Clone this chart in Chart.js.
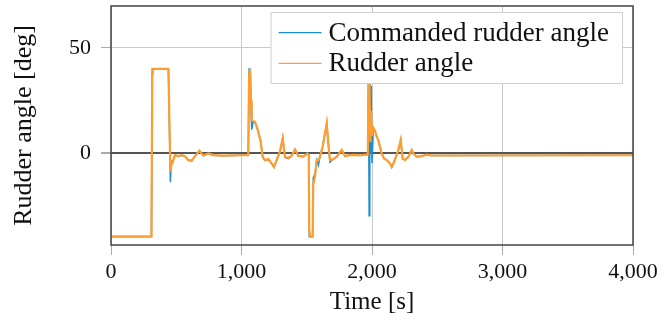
<!DOCTYPE html>
<html>
<head>
<meta charset="utf-8">
<script src="https://cdn.jsdelivr.net/npm/chart.js@4.4.1/dist/chart.umd.min.js"></script>
<style>
  html, body { margin: 0; padding: 0; background: #fff; }
  #wrap { width: 664px; height: 321px; }
</style>
</head>
<body>
<div id="wrap"><canvas id="chart" width="664" height="321"></canvas></div>
<script>
// time stamps [s] shared by both series
const time = [
  0, 310, 316, 324, 440, 455, 462, 473, 490, 516, 541, 567, 593, 618, 644, 677,
  707, 746, 784, 861, 1000, 1052, 1058, 1066, 1073, 1078, 1090, 1103, 1117, 1129,
  1147, 1162, 1180, 1206, 1231, 1249, 1270, 1295, 1316, 1333, 1359, 1384, 1410,
  1435, 1474, 1505, 1515, 1519, 1525, 1545, 1550, 1563, 1576, 1589, 1601, 1622,
  1640, 1653, 1665, 1678, 1704, 1730, 1768, 1793, 1831, 1870, 1908, 1946, 1968,
  1973, 1978, 1983, 1988, 1993, 2000, 2010, 2023, 2036, 2048, 2061, 2074, 2092,
  2113, 2138, 2151, 2164, 2184, 2202, 2220, 2235, 2253, 2279, 2304, 2317, 2343,
  2381, 2419, 2450, 2521, 4000
];

// commanded rudder angle [deg]
const commanded = [
  -40, -40, 40, 40, 40, -14, -4, -4.5, -1.2, -1.8, -1.2, -1.8, -3.6, -3.9, -1.6, 1.0,
  -1.5, -0.4, -1.2, -1.4, -1.2, -1.2, 40, 40, 22, 11, 15, 14.5, 12.3, 9.8,
  5.3, -2.2, -3.7, -3.3, -5.3, -7, -3.5, 0.5, 7.2, -2.2, -2.8, -1.5, 1.6,
  -1.6, -1.8, -0.3, -1, -40, -40, -40, -12, -10, -3.5, -6, -2, 2.9,
  9.3, 14.1, 4.5, -4.5, -3, -2, 1.3, -1.6, -1.1, -1, -1.3, -1, -0.8,
  38, -30, 36, 0, 32, -5, 10.9, 10.5, 7.7, 6, 2.9, -0.4, -2.7,
  -3.5, -5.3, -7, -5.1, -1.9, 1.3, 6.1, -2.9, -3.5, -1.9, 1.3, -0.3, -1.9,
  -1.6, -0.9, -1.3, -1.3, -1.2
];

// measured rudder angle [deg]
const rudder = [
  -40, -40, 36, 40, 40, -9, -6, -4.3, -1.1, -1.6, -1.1, -1.6, -3.5, -3.7, -1.6, 1.0,
  -1.3, -0.3, -1.1, -1.4, -1.2, -1.2, 36, 40, 25, 15.7, 15, 14.8, 12.5, 10,
  5.3, -1.9, -3.5, -3.0, -5.1, -6.7, -3.3, 0.5, 6.9, -1.9, -2.5, -1.4, 1.6,
  -1.5, -1.8, -0.3, -1, -36, -40, -40, -15, -11.5, -3.5, -3.5, -1.9, 2.9,
  9.3, 14.1, 4.5, -3.5, -3, -1.9, 1.3, -1.6, -1.1, -1, -1.3, -1, -0.8,
  30, 40, 40, 5, 20, 8, 12, 10.5, 7.7, 6, 2.9, -0.4, -2.7,
  -3.5, -5.1, -6.7, -5.1, -1.9, 1.3, 6.1, -2.7, -3.5, -1.9, 1.3, -0.3, -1.9,
  -1.6, -0.9, -1.3, -1.3, -1.2
];

const yTickValues = [0, 50];

const serif = "'Liberation Serif', 'DejaVu Serif', serif";

// Frame around the plot + pgfplots-style legend inside the axes
const framePlugin = {
  id: "frame",
  afterDatasetsDraw(chart) {
    const { ctx, chartArea: a } = chart;
    ctx.save();

    // axis box
    ctx.strokeStyle = "#444";
    ctx.lineWidth = 1.5;
    ctx.strokeRect(a.left, a.top, a.right - a.left, a.bottom - a.top);

    // legend
    ctx.font = "27px " + serif;
    const items = chart.data.datasets.map((d) => ({ label: d.label, color: d.borderColor }));
    const textW = Math.max(...items.map((it) => ctx.measureText(it.label).width));
    const boxRight = a.right - 10;
    const boxLeft = boxRight - (8 + 43 + 7 + textW + 14);
    const boxTop = a.top + 6;
    const rowH = 30.6;
    const boxBottom = boxTop + 72;

    ctx.fillStyle = "#fff";
    ctx.fillRect(boxLeft, boxTop, boxRight - boxLeft, boxBottom - boxTop);
    ctx.strokeStyle = "#d0d0d0";
    ctx.lineWidth = 1;
    ctx.strokeRect(boxLeft + 0.5, boxTop + 0.5, boxRight - boxLeft - 1, boxBottom - boxTop - 1);

    items.forEach((it, i) => {
      const y = boxTop + 20.7 + i * rowH;
      ctx.strokeStyle = it.color;
      ctx.lineWidth = 1.3;
      ctx.beginPath();
      ctx.moveTo(boxLeft + 8, y);
      ctx.lineTo(boxLeft + 51, y);
      ctx.stroke();
      ctx.fillStyle = "#111";
      ctx.textBaseline = "middle";
      ctx.textAlign = "left";
      ctx.fillText(it.label, boxLeft + 58, y + 1);
    });

    ctx.restore();
  },
};

const chartConfig = {
  type: "line",
  data: {
    labels: time,
    datasets: [
      {
        label: "Commanded rudder angle",
        data: time.map((t, i) => ({ x: t, y: commanded[i] })),
        borderColor: "#1b8fcf",
        borderWidth: 1.5,
        pointRadius: 0,
        tension: 0,
        order: 2,
      },
      {
        label: "Rudder angle",
        data: time.map((t, i) => ({ x: t, y: rudder[i] })),
        borderColor: "#ff9d2e",
        borderWidth: 2.2,
        pointRadius: 0,
        tension: 0,
        order: 1,
      },
    ],
  },
  options: {
    responsive: false,
    animation: false,
    layout: { padding: { left: 0, top: 6, right: 31, bottom: 0 } },
    plugins: {
      legend: { display: false },
      tooltip: { enabled: false },
    },
    scales: {
      x: {
        type: "linear",
        min: 0,
        max: 4000,
        ticks: {
          stepSize: 1000,
          color: "#111",
          padding: 4,
          font: { family: serif, size: 22 },
        },
        grid: {
          color: "#c8c8c8",
          tickColor: "#aaa",
          tickLength: 10,
        },
        border: { display: false },
        title: {
          display: true,
          text: "Time [s]",
          color: "#111",
          font: { family: serif, size: 25 },
          padding: { top: 0, bottom: 4 },
        },
        afterFit(scale) {
          scale.height = 76;
        },
      },
      y: {
        min: -44,
        max: 70,
        afterBuildTicks(scale) {
          scale.ticks = yTickValues.map((v) => ({ value: v }));
        },
        ticks: {
          color: "#111",
          padding: 10,
          font: { family: serif, size: 22 },
        },
        grid: {
          color: (c) => (c.tick && c.tick.value === 0 ? "#555" : "#c8c8c8"),
          lineWidth: (c) => (c.tick && c.tick.value === 0 ? 2 : 1),
          tickColor: "#aaa",
          tickLength: 10,
        },
        border: { display: false },
        title: {
          display: true,
          text: "Rudder angle [deg]",
          color: "#111",
          font: { family: serif, size: 26 },
          padding: { top: 9, bottom: 0 },
        },
        afterFit(scale) {
          scale.width = 111;
          scale.paddingTop = 0;
          scale.paddingBottom = 0;
        },
      },
    },
  },
  plugins: [framePlugin],
};

new Chart(document.getElementById("chart").getContext("2d"), chartConfig);
</script>
</body>
</html>
